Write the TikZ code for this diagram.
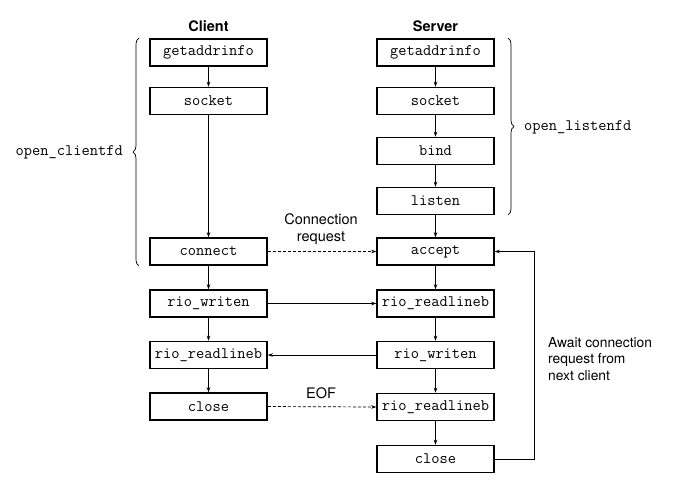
\documentclass[tikz,border=0pt]{standalone}
\usepackage{fontspec}
\setsansfont{TeX Gyre Heros}
\usetikzlibrary{arrows.meta,decorations.pathreplacing}
\tikzset{
  fbox/.style={draw, line width=1.5pt, minimum width=117pt, minimum height=27pt, inner sep=0pt,
    font=\fontsize{16}{18}\selectfont\ttfamily},
  arr/.style={line width=0.7pt, -{Stealth[length=5pt,width=3.5pt]}},
  darr/.style={arr, dash pattern=on 3pt off 2pt},
  lab/.style={font=\fontsize{14.5}{17}\selectfont\sffamily, inner sep=0pt},
  ttl/.style={font=\fontsize{14.5}{17}\selectfont\sffamily\bfseries, inner sep=0pt},
  brc/.style={line width=0.7pt, decorate, decoration={brace, amplitude=6pt}},
  side/.style={font=\fontsize{16}{18}\selectfont\ttfamily, inner sep=0pt},
}
\begin{document}
\begin{tikzpicture}[x=1pt,y=-1pt]
\useasboundingbox (0,0) rectangle (678,488);
% titles
\node[ttl] (ct) at (208.5,26) {Client};
\node[ttl] (st) at (435.5,26) {Server};
% client
\node[fbox] (cg) at (208.5,52.5) {getaddrinfo};
\node[fbox] (cs) at (208.5,101) {socket};
\node[fbox] (cc) at (208.5,251.5) {connect};
\node[fbox] (cw) at (208.5,303.5) {rio\_writen};
\node[fbox] (cr) at (208.5,355) {rio\_readlineb};
\node[fbox] (cx) at (208.5,406.5) {close};
% server
\node[fbox] (sg) at (435.5,52.5) {getaddrinfo};
\node[fbox] (ss) at (435.5,101) {socket};
\node[fbox] (sb) at (435.5,151) {bind};
\node[fbox] (sl) at (435.5,201) {listen};
\node[fbox] (sa) at (435.5,251.5) {accept};
\node[fbox] (sr) at (435.5,303.5) {rio\_readlineb};
\node[fbox] (sw) at (435.5,355) {rio\_writen};
\node[fbox] (sr2) at (435.5,407) {rio\_readlineb};
\node[fbox] (sx) at (435.5,459) {close};
% vertical arrows
\draw[arr] (cg) -- (cs);
\draw[arr] (cs) -- (cc);
\draw[arr] (cc) -- (cw);
\draw[arr] (cw) -- (cr);
\draw[arr] (cr) -- (cx);
\draw[arr] (sg) -- (ss);
\draw[arr] (ss) -- (sb);
\draw[arr] (sb) -- (sl);
\draw[arr] (sl) -- (sa);
\draw[arr] (sa) -- (sr);
\draw[arr] (sr) -- (sw);
\draw[arr] (sw) -- (sr2);
\draw[arr] (sr2) -- (sx);
% horizontal
\draw[darr] (cc) -- (sa);
\draw[arr] (cw) -- (sr);
\draw[arr] (sw) -- (cr);
\draw[darr] (cx.east) -- (sr2.west);
% loop
\coordinate (lx) at (534,459);
\draw[arr] (sx.east) -- (lx) -- (lx |- sa.east) -- (sa.east);
% labels
\node[lab, align=center] (conn) at (321,229.5) {Connection\\request};
\node[lab] (eof) at (321,393) {EOF};
\node[lab, font=\fontsize{13.8}{16.8}\selectfont\sffamily, align=left, anchor=west] (await) at (548,359) {Await connection\\request from\\next client};
% braces
\draw[brc] (139,266) -- (139,38);
\node[side, anchor=east] (ocf) at (123,152) {open\_clientfd};
\draw[brc] (508,38) -- (508,215);
\node[side, anchor=west] (olf) at (524,127) {open\_listenfd};
\end{tikzpicture}
\end{document}
